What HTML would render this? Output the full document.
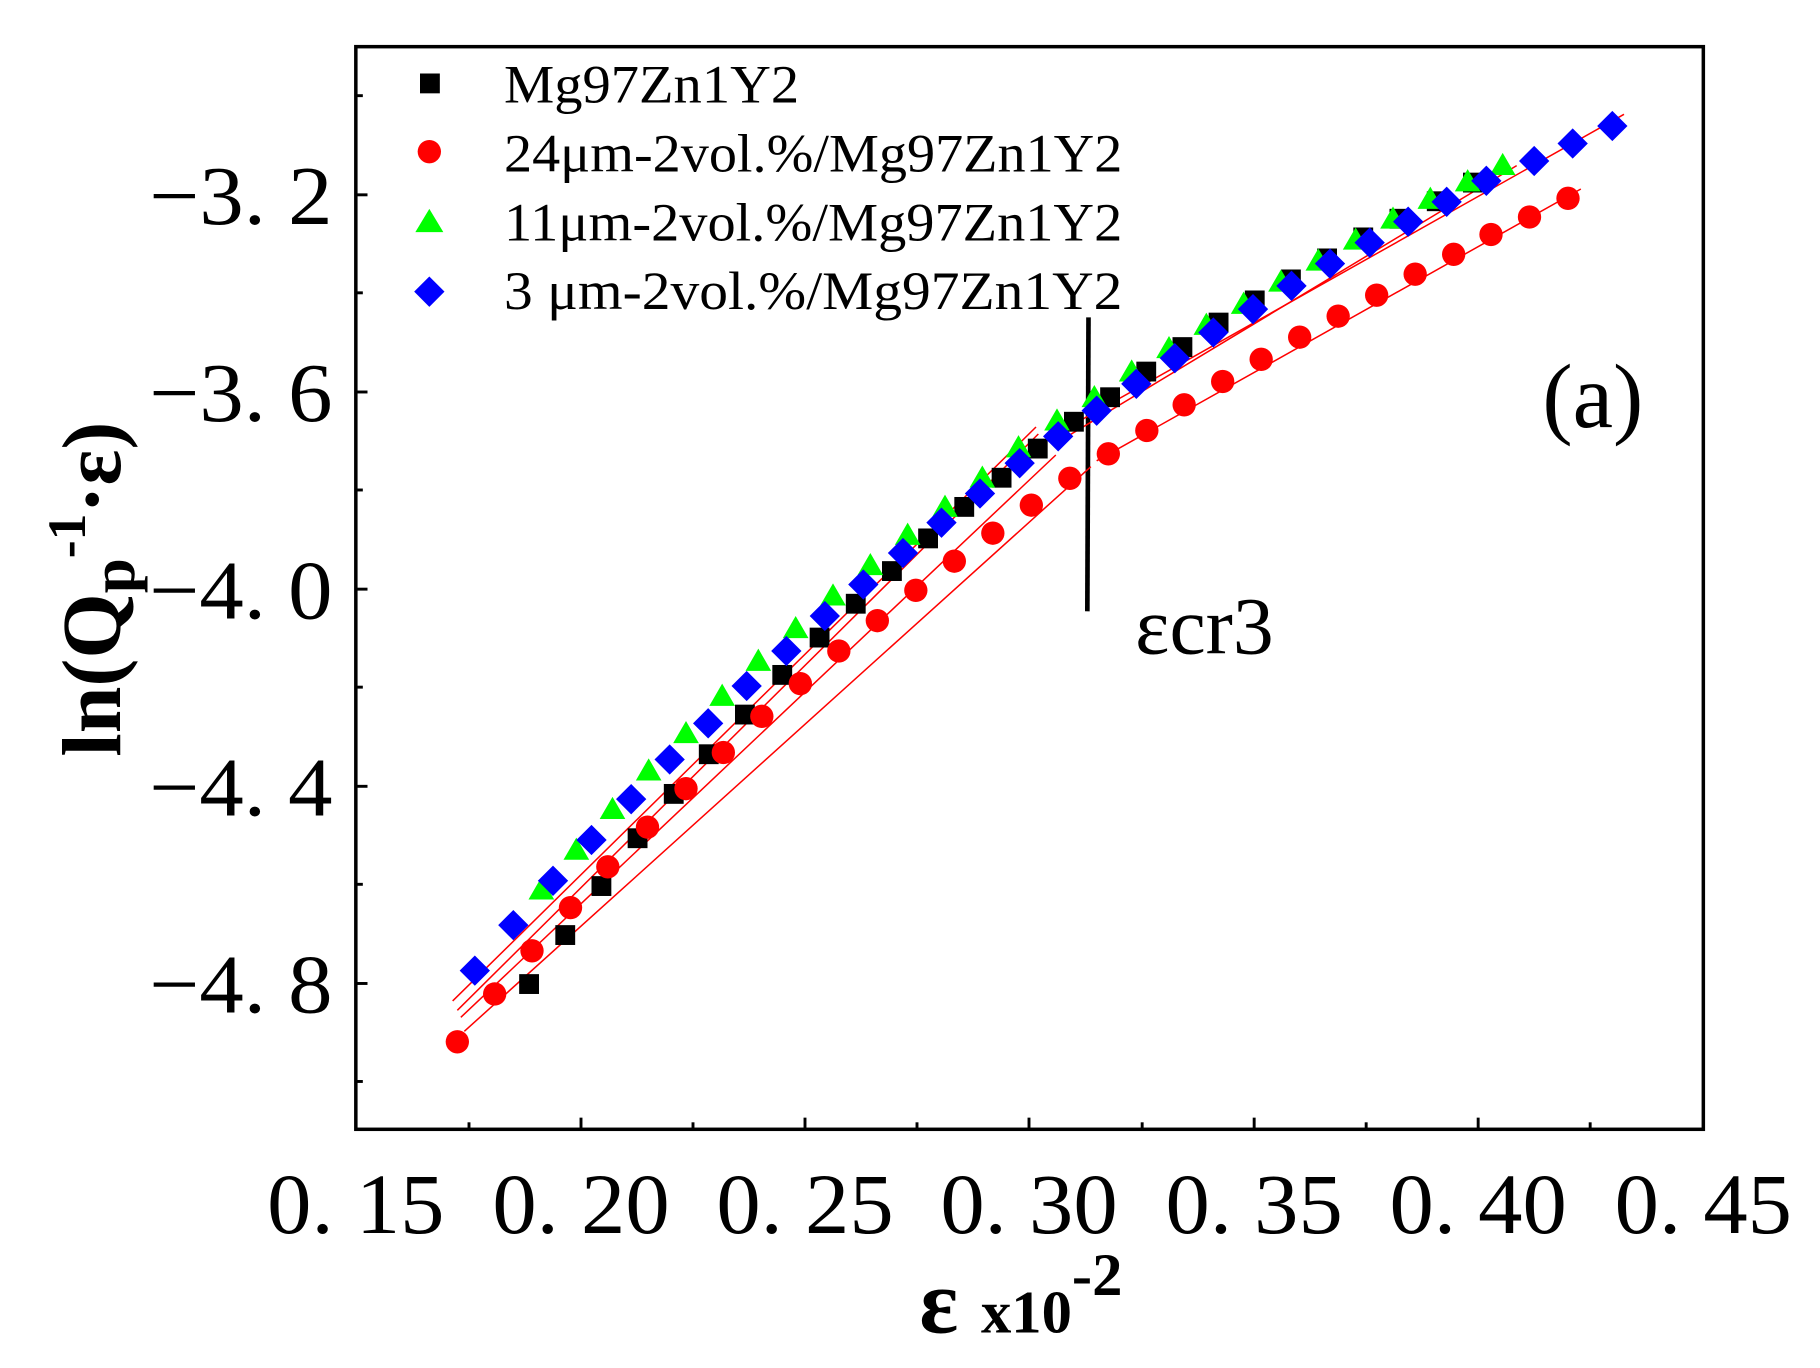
<!DOCTYPE html>
<html><head><style>html,body{margin:0;padding:0;background:#fff}svg{display:block}</style></head>
<body>
<svg width="1820" height="1368" viewBox="0 0 1560 1172.6" preserveAspectRatio="none" font-family="'Liberation Serif', serif">
<rect x="305" y="40" width="1155" height="928" fill="none" stroke="#000" stroke-width="3"/>
<g stroke="#000" stroke-width="2.5">
<line x1="305" y1="167" x2="315" y2="167"/><line x1="305" y1="336" x2="315" y2="336"/><line x1="305" y1="505" x2="315" y2="505"/><line x1="305" y1="674" x2="315" y2="674"/><line x1="305" y1="843" x2="315" y2="843"/>
<line x1="305" y1="82" x2="311" y2="82"/><line x1="305" y1="251" x2="311" y2="251"/><line x1="305" y1="420" x2="311" y2="420"/><line x1="305" y1="589" x2="311" y2="589"/><line x1="305" y1="758" x2="311" y2="758"/><line x1="305" y1="927" x2="311" y2="927"/>
<line x1="498" y1="968" x2="498" y2="958"/><line x1="690" y1="968" x2="690" y2="958"/><line x1="882" y1="968" x2="882" y2="958"/><line x1="1075" y1="968" x2="1075" y2="958"/><line x1="1267" y1="968" x2="1267" y2="958"/>
<line x1="402" y1="968" x2="402" y2="962"/><line x1="594" y1="968" x2="594" y2="962"/><line x1="786" y1="968" x2="786" y2="962"/><line x1="979" y1="968" x2="979" y2="962"/><line x1="1171" y1="968" x2="1171" y2="962"/><line x1="1363" y1="968" x2="1363" y2="962"/>
</g>
<g font-size="72" fill="#000">
<text x="128" y="192" textLength="157" lengthAdjust="spacingAndGlyphs">−3. 2</text>
<text x="128" y="361" textLength="157" lengthAdjust="spacingAndGlyphs">−3. 6</text>
<text x="128" y="530" textLength="157" lengthAdjust="spacingAndGlyphs">−4. 0</text>
<text x="128" y="699" textLength="157" lengthAdjust="spacingAndGlyphs">−4. 4</text>
<text x="128" y="868" textLength="157" lengthAdjust="spacingAndGlyphs">−4. 8</text>
</g>
<g font-size="74" fill="#000">
<text x="229" y="1057" textLength="152" lengthAdjust="spacingAndGlyphs">0. 15</text>
<text x="422" y="1057" textLength="152" lengthAdjust="spacingAndGlyphs">0. 20</text>
<text x="614" y="1057" textLength="152" lengthAdjust="spacingAndGlyphs">0. 25</text>
<text x="806" y="1057" textLength="152" lengthAdjust="spacingAndGlyphs">0. 30</text>
<text x="999" y="1057" textLength="152" lengthAdjust="spacingAndGlyphs">0. 35</text>
<text x="1191" y="1057" textLength="152" lengthAdjust="spacingAndGlyphs">0. 40</text>
<text x="1384" y="1057" textLength="152" lengthAdjust="spacingAndGlyphs">0. 45</text>
</g>
<text x="788" y="1142" font-size="78" font-weight="bold">ε <tspan font-size="52">x10</tspan><tspan font-size="52" dy="-32">-2</tspan></text>
<text transform="translate(103,505) rotate(-90)" text-anchor="middle" font-size="72" font-weight="bold">ln(Q<tspan font-size="54" dy="12">p</tspan><tspan font-size="46" dy="-42">-1</tspan><tspan dy="30">·ε)</tspan></text>
<text x="1322" y="366" font-size="78">(a)</text>
<text x="973" y="560" font-size="70">εcr3</text>
<line x1="933" y1="272" x2="932" y2="524" stroke="#000" stroke-width="4"/>
<g stroke="#f00" stroke-width="1.3" fill="none">
<line x1="388" y1="858" x2="888" y2="366"/>
<line x1="392" y1="866" x2="890" y2="372"/>
<line x1="395" y1="872" x2="905" y2="390"/>
<line x1="398" y1="884" x2="935" y2="400"/>
<line x1="900" y1="375" x2="1392" y2="98"/>
<line x1="905" y1="380" x2="1300" y2="142"/>
<line x1="940" y1="395" x2="1355" y2="162"/>
</g>
<g fill="#000">
<rect x="445" y="835" width="17" height="17"/><rect x="476" y="793" width="17" height="17"/><rect x="507" y="751" width="17" height="17"/><rect x="538" y="710" width="17" height="17"/><rect x="569" y="672" width="17" height="17"/><rect x="599" y="638" width="17" height="17"/><rect x="630" y="604" width="17" height="17"/><rect x="662" y="570" width="17" height="17"/><rect x="694" y="538" width="17" height="17"/><rect x="725" y="509" width="17" height="17"/><rect x="756" y="481" width="17" height="17"/><rect x="787" y="453" width="17" height="17"/><rect x="818" y="426" width="17" height="17"/><rect x="850" y="401" width="17" height="17"/><rect x="881" y="376" width="17" height="17"/><rect x="912" y="353" width="17" height="17"/><rect x="943" y="332" width="17" height="17"/><rect x="974" y="310" width="17" height="17"/><rect x="1005" y="289" width="17" height="17"/><rect x="1036" y="268" width="17" height="17"/><rect x="1067" y="249" width="17" height="17"/><rect x="1098" y="231" width="17" height="17"/><rect x="1129" y="213" width="17" height="17"/><rect x="1160" y="195" width="17" height="17"/><rect x="1191" y="179" width="17" height="17"/><rect x="1223" y="164" width="17" height="17"/><rect x="1254" y="148" width="17" height="17"/>
<rect x="360" y="63" width="17" height="17"/>
</g>
<g fill="#f00">
<circle cx="392" cy="893" r="10"/><circle cx="424" cy="852" r="10"/><circle cx="456" cy="815" r="10"/><circle cx="489" cy="778" r="10"/><circle cx="521" cy="743" r="10"/><circle cx="555" cy="709" r="10"/><circle cx="588" cy="676" r="10"/><circle cx="620" cy="645" r="10"/><circle cx="653" cy="614" r="10"/><circle cx="686" cy="586" r="10"/><circle cx="719" cy="558" r="10"/><circle cx="752" cy="532" r="10"/><circle cx="785" cy="506" r="10"/><circle cx="818" cy="481" r="10"/><circle cx="851" cy="457" r="10"/><circle cx="884" cy="433" r="10"/><circle cx="917" cy="410" r="10"/><circle cx="950" cy="389" r="10"/><circle cx="983" cy="369" r="10"/><circle cx="1015" cy="347" r="10"/><circle cx="1048" cy="327" r="10"/><circle cx="1081" cy="308" r="10"/><circle cx="1114" cy="289" r="10"/><circle cx="1147" cy="271" r="10"/><circle cx="1180" cy="253" r="10"/><circle cx="1213" cy="235" r="10"/><circle cx="1246" cy="218" r="10"/><circle cx="1278" cy="201" r="10"/><circle cx="1311" cy="186" r="10"/><circle cx="1344" cy="170" r="10"/>
<circle cx="368" cy="130" r="10"/>
</g>
<g fill="#0f0">
<path d="M464 752l11 19h-22z M494 718l11 19h-22z M525 683l11 19h-22z M556 650l11 19h-22z M588 618l11 19h-22z M619 586l11 19h-22z M650 556l11 19h-22z M682 528l11 19h-22z M714 500l11 19h-22z M746 474l11 19h-22z M778 448l11 19h-22z M810 424l11 19h-22z M842 399l11 19h-22z M873 373l11 19h-22z M906 350l11 19h-22z M938 330l11 19h-22z M970 308l11 19h-22z M1002 288l11 19h-22z M1034 268l11 19h-22z M1066 250l11 19h-22z M1098 231l11 19h-22z M1130 213l11 19h-22z M1162 195l11 19h-22z M1194 177l11 19h-22z M1226 160l11 19h-22z M1258 145l11 19h-22z M1288 131l11 19h-22z M368 179l12 20h-24z"/>
</g>
<g fill="#00f">
<path d="M407 819l13 13-13 13-13-13z M440 780l13 13-13 13-13-13z M474 742l13 13-13 13-13-13z M507 707l13 13-13 13-13-13z M541 672l13 13-13 13-13-13z M574 638l13 13-13 13-13-13z M607 607l13 13-13 13-13-13z M640 575l13 13-13 13-13-13z M674 545l13 13-13 13-13-13z M707 515l13 13-13 13-13-13z M740 488l13 13-13 13-13-13z M774 461l13 13-13 13-13-13z M807 435l13 13-13 13-13-13z M840 410l13 13-13 13-13-13z M874 384l13 13-13 13-13-13z M907 361l13 13-13 13-13-13z M940 339l13 13-13 13-13-13z M974 316l13 13-13 13-13-13z M1007 294l13 13-13 13-13-13z M1040 272l13 13-13 13-13-13z M1074 252l13 13-13 13-13-13z M1107 232l13 13-13 13-13-13z M1140 213l13 13-13 13-13-13z M1174 195l13 13-13 13-13-13z M1207 177l13 13-13 13-13-13z M1240 160l13 13-13 13-13-13z M1274 142l13 13-13 13-13-13z M1315 125l13 13-13 13-13-13z M1348 110l13 13-13 13-13-13z M1382 95l13 13-13 13-13-13z M368 237l13 13-13 13-13-13z"/>
</g>
<g font-size="46" fill="#000">
<text x="432" y="88" textLength="253" lengthAdjust="spacingAndGlyphs">Mg97Zn1Y2</text>
<text x="432" y="147" textLength="530" lengthAdjust="spacingAndGlyphs">24μm-2vol.%/Mg97Zn1Y2</text>
<text x="432" y="206" textLength="530" lengthAdjust="spacingAndGlyphs">11μm-2vol.%/Mg97Zn1Y2</text>
<text x="432" y="265" textLength="530" lengthAdjust="spacingAndGlyphs">3  μm-2vol.%/Mg97Zn1Y2</text>
</g>
</svg>
</body></html>
